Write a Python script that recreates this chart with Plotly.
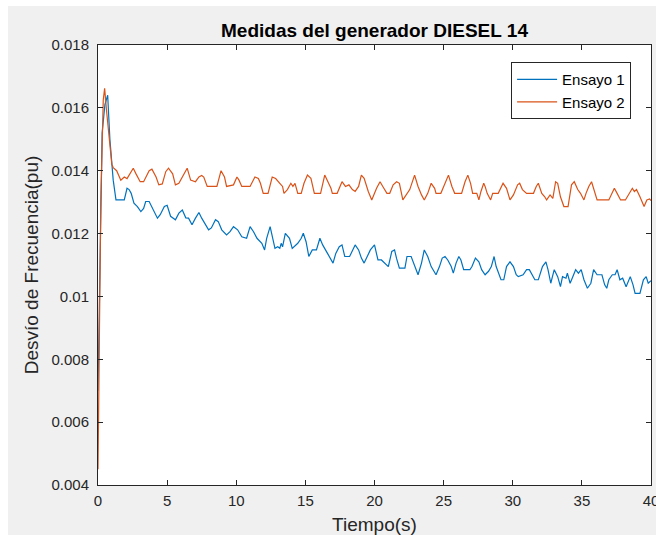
import plotly.graph_objects as go

# Ensayo 1 (time in s, frequency deviation in pu)
t_ensayo1 = [0, 0.3, 0.5, 0.7, 0.86, 1.0, 1.1, 1.3, 1.9, 2.1, 2.25, 2.4, 2.6, 2.85, 3.1, 3.3, 3.45, 3.7,
             3.95, 4.3, 4.5, 4.8, 5.0, 5.25, 5.6, 5.85, 6.1, 6.35, 6.55, 6.8, 7.05, 7.3, 7.5, 7.75, 8.0,
             8.2, 8.5, 8.7, 8.95, 9.3, 9.55, 9.8, 10.1, 10.4, 10.75, 11.0, 11.25, 11.5, 11.85, 12.05,
             12.2, 12.45, 12.6, 12.8, 13.0, 13.15, 13.25, 13.35, 13.55, 13.85, 14.05, 14.45, 14.7,
             14.85, 15.05, 15.25, 15.5, 15.8, 16.05, 16.25, 16.6, 16.85, 17.0, 17.2, 17.45, 17.65,
             17.85, 18.2, 18.4, 18.6, 18.85, 19.05, 19.25, 19.5, 19.7, 20.0, 20.25, 20.5, 20.75, 21.0,
             21.25, 21.45, 21.6, 21.8, 22.2, 22.35, 22.65, 22.9, 23.15, 23.4, 23.6, 23.85, 24.1, 24.45,
             24.7, 24.9, 25.1, 25.3, 25.55, 25.7, 25.9, 26.1, 26.25, 26.45, 26.9, 27.05, 27.3, 27.55,
             27.75, 28.0, 28.25, 28.45, 28.65, 28.8, 28.95, 29.15, 29.35, 29.55, 29.8, 30.05, 30.25,
             30.4, 30.75, 31.0, 31.2, 31.35, 31.6, 31.85, 32.15, 32.4, 32.55, 32.75, 33.0, 33.25,
             33.45, 33.6, 33.85, 33.95, 34.15, 34.3, 34.55, 34.75, 34.95, 35.15, 35.4, 35.65, 35.85,
             36.1, 36.45, 36.65, 36.8, 36.95, 37.2, 37.4, 37.55, 37.75, 37.95, 38.2, 38.5, 38.7, 38.85,
             39.2, 39.45, 39.65, 39.8, 40.0]
f_ensayo1 = [0.0070, 0.0152, 0.0161, 0.0164, 0.0150, 0.0141, 0.0137, 0.01307, 0.01307, 0.01344,
             0.0134, 0.01328, 0.01297, 0.01286, 0.0127, 0.0128, 0.01302, 0.01302, 0.0128, 0.01249,
             0.0126, 0.01286, 0.0129, 0.01255, 0.01244, 0.01265, 0.01275, 0.0125, 0.01249, 0.01228,
             0.01249, 0.01267, 0.01249, 0.01228, 0.01212, 0.01218, 0.01244, 0.01238, 0.01212, 0.01196,
             0.01206, 0.01222, 0.01212, 0.0119, 0.01185, 0.01222, 0.01206, 0.01185, 0.01169, 0.01148,
             0.01185, 0.01222, 0.0119, 0.01153, 0.01158, 0.01153, 0.01169, 0.01158, 0.01201, 0.01185,
             0.01153, 0.01169, 0.01185, 0.01201, 0.01174, 0.01127, 0.01148, 0.01148, 0.01185, 0.01164,
             0.01137, 0.01116, 0.01106, 0.01137, 0.01158, 0.01164, 0.01127, 0.01127, 0.01148, 0.01164,
             0.01148, 0.01122, 0.01106, 0.01127, 0.01148, 0.01164, 0.01116, 0.01116, 0.01106, 0.01095,
             0.01143, 0.01148, 0.0112, 0.0109, 0.0109, 0.01127, 0.01127, 0.011, 0.01069, 0.01106,
             0.01148, 0.01127, 0.01095, 0.01069, 0.01095, 0.01122, 0.01127, 0.01116, 0.01095, 0.01074,
             0.01106, 0.01127, 0.01116, 0.01085, 0.01085, 0.01095, 0.01122, 0.0111, 0.01085, 0.01069,
             0.0108, 0.01095, 0.01127, 0.01095, 0.01074, 0.01053, 0.01053, 0.01095, 0.0111, 0.01095,
             0.01069, 0.01063, 0.01069, 0.01085, 0.01085, 0.01074, 0.01053, 0.01053, 0.01095, 0.0111,
             0.01085, 0.01042, 0.01085, 0.01063, 0.01031, 0.01063, 0.01058, 0.01074, 0.01042, 0.01058,
             0.01085, 0.01074, 0.01085, 0.01053, 0.01026, 0.01042, 0.01085, 0.01069, 0.01069, 0.01037,
             0.01026, 0.01053, 0.01069, 0.01069, 0.01085, 0.01053, 0.01058, 0.01031, 0.01063, 0.01037,
             0.0101, 0.0101, 0.01053, 0.01063, 0.01042, 0.0105]

# Ensayo 2
t_ensayo2 = [0, 0.2, 0.38, 0.48, 0.62, 0.86, 1.0, 1.1, 1.35, 1.65, 1.9, 2.1, 2.4, 2.55, 2.75, 3.05,
             3.3, 3.7, 3.9, 4.2, 4.4, 4.65, 4.9, 5.1, 5.4, 5.6, 5.85, 6.2, 6.45, 6.7, 7.05, 7.3, 7.5,
             7.65, 7.9, 8.6, 8.9, 9.15, 9.3, 9.8, 10.05, 10.2, 10.4, 11.0, 11.35, 11.6, 11.75, 11.95,
             12.3, 12.6, 12.85, 13.15, 13.35, 13.45, 13.7, 13.95, 14.1, 14.25, 14.45, 14.7, 14.9,
             15.15, 15.4, 15.65, 16.1, 16.4, 16.65, 16.85, 16.95, 17.3, 17.65, 17.9, 18.15, 18.4,
             18.6, 18.85, 19.05, 19.25, 19.55, 19.8, 20.15, 20.4, 20.6, 20.9, 21.1, 21.35, 21.6, 21.8,
             22.05, 22.3, 22.55, 22.9, 23.15, 23.4, 23.6, 23.85, 24.1, 24.35, 24.45, 24.8, 25.2,
             25.35, 25.6, 25.8, 26.3, 26.55, 26.75, 26.95, 27.1, 27.4, 27.55, 27.7, 27.9, 28.0, 28.15,
             28.4, 28.55, 28.95, 29.3, 29.55, 29.8, 30.05, 30.35, 30.5, 30.7, 31.0, 31.5, 31.7, 31.85,
             32.1, 32.3, 32.45, 32.7, 32.9, 33.1, 33.25, 33.45, 33.7, 34.0, 34.25, 34.45, 34.7, 34.9,
             35.15, 35.3, 35.5, 35.7, 35.85, 36.1, 36.95, 37.2, 37.35, 37.55, 37.8, 38.15, 38.4,
             38.65, 38.8, 38.95, 39.2, 39.35, 39.5, 39.7, 39.9, 40.0]
f_ensayo2 = [0.0045, 0.0130, 0.01625, 0.01662, 0.0159, 0.0148, 0.0142, 0.0141, 0.0140, 0.0137,
             0.0138, 0.01375, 0.0140, 0.01408, 0.0139, 0.01365, 0.01365, 0.0140, 0.01405, 0.0138,
             0.01355, 0.01358, 0.01397, 0.01408, 0.0139, 0.01355, 0.0136, 0.0139, 0.01408, 0.0137,
             0.01365, 0.0138, 0.01385, 0.0138, 0.0135, 0.0135, 0.0140, 0.0138, 0.0135, 0.01355,
             0.0138, 0.0137, 0.0135, 0.0135, 0.0138, 0.01375, 0.0136, 0.01328, 0.01328, 0.0138,
             0.01375, 0.0136, 0.0135, 0.01328, 0.0134, 0.0136, 0.0135, 0.0136, 0.01328, 0.01328,
             0.0136, 0.01386, 0.01376, 0.01328, 0.01328, 0.01386, 0.01365, 0.01344, 0.01328, 0.01328,
             0.01365, 0.0135, 0.01355, 0.0134, 0.01334, 0.0135, 0.01386, 0.01376, 0.01334, 0.01307,
             0.01344, 0.01365, 0.0135, 0.01328, 0.01328, 0.01355, 0.01365, 0.0136, 0.01307, 0.01323,
             0.0134, 0.01386, 0.0135, 0.01323, 0.01307, 0.01328, 0.0136, 0.01344, 0.01328, 0.01328,
             0.0137, 0.01386, 0.0135, 0.01328, 0.01328, 0.01365, 0.01386, 0.0136, 0.01328, 0.01328,
             0.01307, 0.01334, 0.0136, 0.0135, 0.01328, 0.01307, 0.01328, 0.01328, 0.0136, 0.01344,
             0.01307, 0.01323, 0.01355, 0.0136, 0.0134, 0.01328, 0.01328, 0.0135, 0.0136, 0.01328,
             0.01318, 0.01307, 0.01323, 0.01312, 0.01365, 0.0136, 0.01317, 0.01286, 0.01286, 0.01355,
             0.01365, 0.0134, 0.01328, 0.01307, 0.01328, 0.0135, 0.01365, 0.0134, 0.01307, 0.01307,
             0.01328, 0.01344, 0.01328, 0.01307, 0.01307, 0.01328, 0.01344, 0.01334, 0.0134, 0.01317,
             0.01302, 0.01286, 0.01307, 0.0131, 0.01305]

x_ticks = [0, 5, 10, 15, 20, 25, 30, 35, 40]
y_ticks = [0.004, 0.006, 0.008, 0.01, 0.012, 0.014, 0.016, 0.018]
y_tick_text = ["0.004", "0.006", "0.008", "0.01", "0.012", "0.014", "0.016", "0.018"]

BLUE = "#0072BD"
ORANGE = "#D95319"
AXIS = "#262626"
FONT = "Liberation Sans, Arial, Helvetica, sans-serif"

fig = go.Figure()
fig.add_trace(go.Scatter(x=t_ensayo1, y=f_ensayo1, mode="lines", name="Ensayo 1",
                         line=dict(color=BLUE, width=1.2)))
fig.add_trace(go.Scatter(x=t_ensayo2, y=f_ensayo2, mode="lines", name="Ensayo 2",
                         line=dict(color=ORANGE, width=1.2)))

axis_common = dict(
    showline=True, linecolor=AXIS, linewidth=1, mirror="ticks",
    ticks="inside", ticklen=5, tickcolor=AXIS, tickwidth=1,
    showgrid=False, zeroline=False, ticklabeloverflow="allow", automargin=False,
    tickfont=dict(family=FONT, size=15, color=AXIS),
)

fig.update_layout(
    width=656, height=535,
    margin=dict(l=98, r=5, t=45, b=50, autoexpand=False),
    paper_bgcolor="#F0F0F0",
    plot_bgcolor="white",
    font=dict(family=FONT, color=AXIS),
    title=dict(text="<b>Medidas del generador DIESEL 14</b>",
               x=0.5, xref="paper", xanchor="center",
               y=1 - 30 / 535, yref="container", yanchor="middle",
               font=dict(family=FONT, size=19, color="black")),
    xaxis=dict(range=[0, 40], tickvals=x_ticks, ticklabelstandoff=2,
               title=dict(text="Tiempo(s)", font=dict(family=FONT, size=19, color=AXIS),
                          standoff=9),
               **axis_common),
    yaxis=dict(range=[0.004, 0.018], tickvals=y_ticks, ticktext=y_tick_text,
               ticklabelstandoff=5,
               title=dict(text="Desvío de Frecuencia(pu)",
                          font=dict(family=FONT, size=19, color=AXIS), standoff=7),
               **axis_common),
    legend=dict(x=0.747, y=0.961, xanchor="left", yanchor="top",
                bgcolor="white", bordercolor=AXIS, borderwidth=1,
                font=dict(family=FONT, size=15, color="black"),
                tracegroupgap=0, itemwidth=40),
    showlegend=True,
    shapes=[
        # thin white border along the top and left edges of the window
        dict(type="rect", xref="paper", yref="paper", x0=-0.19, x1=1.02, y0=1.0886, y1=1.11,
             fillcolor="white", line=dict(width=0), layer="below"),
        dict(type="rect", xref="paper", yref="paper", x0=-0.19, x1=-0.1627, y0=-0.12, y1=1.11,
             fillcolor="white", line=dict(width=0), layer="below"),
    ],
)

fig.write_html("out.html")
